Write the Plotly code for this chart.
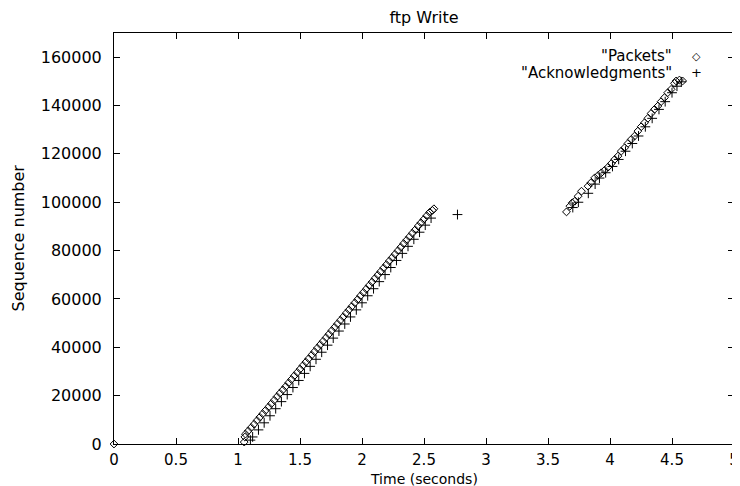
import plotly.graph_objects as go

# ---- data ----
pkt_time = [0.0,
    1.050, 1.055, 1.060, 1.083, 1.106, 1.130, 1.153, 1.176, 1.199, 1.222,
    1.246, 1.269, 1.292, 1.315, 1.338, 1.362, 1.385, 1.408, 1.431, 1.454,
    1.478, 1.501, 1.524, 1.547, 1.570, 1.594, 1.617, 1.640, 1.663, 1.686,
    1.710, 1.733, 1.756, 1.779, 1.802, 1.826, 1.849, 1.872, 1.895, 1.918,
    1.942, 1.965, 1.988, 2.011, 2.034, 2.058, 2.081, 2.104, 2.127, 2.150,
    2.174, 2.197, 2.220, 2.243, 2.266, 2.290, 2.313, 2.336, 2.359, 2.382,
    2.406, 2.429, 2.452, 2.475, 2.498, 2.522, 2.545, 2.568, 2.580,
    3.649, 3.676, 3.695, 3.716, 3.743, 3.770, 3.823, 3.845, 3.877, 3.904,
    3.930, 3.957, 3.984, 4.011, 4.038, 4.064, 4.091, 4.118, 4.145, 4.171,
    4.198, 4.225, 4.252, 4.279, 4.305, 4.332, 4.359, 4.386, 4.412, 4.439,
    4.466, 4.493, 4.520, 4.533, 4.560, 4.586]
pkt_seq = [0,
    800, 2900, 4100, 5400, 6800, 8200, 9700, 11100, 12500, 13900,
    15300, 16700, 18100, 19600, 21000, 22400, 23800, 25300, 26700, 28200,
    29600, 31000, 32500, 33900, 35300, 36800, 38200, 39700, 41100, 42500,
    44000, 45400, 46900, 48300, 49700, 51200, 52600, 54100, 55500, 56900,
    58400, 59800, 61300, 62700, 64100, 65600, 67000, 68500, 69900, 71300,
    72800, 74200, 75700, 77100, 78500, 80000, 81400, 82900, 84300, 85700,
    87200, 88600, 90100, 91500, 92900, 94400, 95800, 96600, 97300,
    96000, 98350, 99750, 100400, 102500, 104560, 106640, 108000, 110100, 111070,
    112180, 113260, 114500, 116040, 117700, 119070, 121140, 122530, 124330, 125980,
    127360, 129430, 131250, 132900, 134690, 136760, 138420, 139790, 141600, 143260,
    145330, 146700, 149190, 150150, 150560, 150150]

ack_time = [1.100, 1.118, 1.165, 1.211, 1.258, 1.304, 1.350, 1.397, 1.443, 1.490,
    1.536, 1.582, 1.629, 1.675, 1.722, 1.768, 1.814, 1.861, 1.907, 1.954,
    2.000, 2.046, 2.093, 2.139, 2.186, 2.232, 2.278, 2.325, 2.371, 2.418,
    2.464, 2.510, 2.557, 2.770,
    3.700, 3.745, 3.825, 3.880, 3.915, 3.965, 4.020, 4.070, 4.125, 4.180,
    4.230, 4.285, 4.340, 4.395, 4.445, 4.500, 4.540, 4.575]
ack_seq = [1600, 2920, 5840, 8760, 11680, 14600, 17520, 20440, 23360, 26280,
    29200, 32120, 35040, 37960, 40880, 43800, 46720, 49640, 52560, 55480,
    58400, 61320, 64240, 67160, 70080, 73000, 75920, 78840, 81760, 84680,
    87600, 90520, 93440, 94900,
    97800, 100000, 103700, 107500, 110000, 112200, 114800, 117700, 121100, 124300,
    127400, 131200, 134700, 138400, 141600, 145300, 148000, 149800]

x_ticks = [0, 0.5, 1, 1.5, 2, 2.5, 3, 3.5, 4, 4.5, 5]
x_tick_text = ["0", "0.5", "1", "1.5", "2", "2.5", "3", "3.5", "4", "4.5", "5"]
y_ticks = [0, 20000, 40000, 60000, 80000, 100000, 120000, 140000, 160000]
y_tick_text = ["0", "20000", "40000", "60000", "80000", "100000", "120000", "140000", "160000"]

series_names = ['"Packets"', '"Acknowledgments"']

FONT = "DejaVu Sans"

fig = go.Figure()
fig.add_trace(go.Scatter(
    x=pkt_time, y=pkt_seq, mode="markers", name=series_names[0],
    marker=dict(symbol="diamond-open", size=6, color="black", line=dict(width=1, color="black")),
    cliponaxis=False, showlegend=False))
fig.add_trace(go.Scatter(
    x=ack_time, y=ack_seq, mode="markers", name=series_names[1],
    marker=dict(symbol="cross-thin-open", size=7, color="black", line=dict(width=1, color="black")),
    cliponaxis=False, showlegend=False))

axis_common = dict(
    showline=True, linecolor="black", linewidth=1, mirror="ticks",
    ticks="inside", ticklen=6, tickwidth=1, tickcolor="black",
    showgrid=False, zeroline=False, automargin=False,
)

fig.update_xaxes(range=[0, 5], tickvals=x_ticks, ticktext=x_tick_text,
                 ticklabelstandoff=2, tickfont=dict(family=FONT, size=15, color="black"),
                 **axis_common)
fig.update_yaxes(range=[0, 170000], tickvals=y_ticks, ticktext=y_tick_text,
                 ticklabelstandoff=8, tickfont=dict(family=FONT, size=16, color="black"),
                 **axis_common)

# axis titles
fig.add_annotation(xref="paper", yref="paper", x=0.5, y=0, yshift=-35,
                   text="Time (seconds)", showarrow=False,
                   xanchor="center", yanchor="middle", borderpad=0,
                   font=dict(family=FONT, size=14, color="black"))
fig.add_annotation(xref="paper", yref="paper", x=0, xshift=-96, y=0.5,
                   text="Sequence number", showarrow=False, textangle=-90,
                   xanchor="center", yanchor="middle",
                   font=dict(family=FONT, size=16, color="black"))

# legend (text right-aligned, key on the right, as in the reference)
legend_rows = [(series_names[0], "\u25c7", 0.944), (series_names[1], "+", 0.903)]
for label, key, yy in legend_rows:
    fig.add_annotation(xref="paper", yref="paper", x=0.902, y=yy, text=label,
                       xanchor="right", yanchor="middle", showarrow=False, borderpad=0,
                       font=dict(family=FONT, size=15, color="black"))
    fig.add_annotation(xref="paper", yref="paper", x=0.940, y=yy, text=key,
                       xanchor="center", yanchor="middle", showarrow=False, borderpad=0,
                       font=dict(family=FONT, size=11 if key != "+" else 13, color="black"))

# the page body has an 8px default margin, so the figure is sized to fill the rest
fig.update_layout(
    width=732, height=478,
    margin=dict(l=106, r=6, t=25, b=42),
    paper_bgcolor="white", plot_bgcolor="white",
    title=dict(text="ftp Write", xref="paper", x=0.5, xanchor="center",
               y=0.981, yanchor="middle",
               font=dict(family=FONT, size=16, color="black")),
    font=dict(family=FONT, color="black"),
)

fig.write_html("out.html")
